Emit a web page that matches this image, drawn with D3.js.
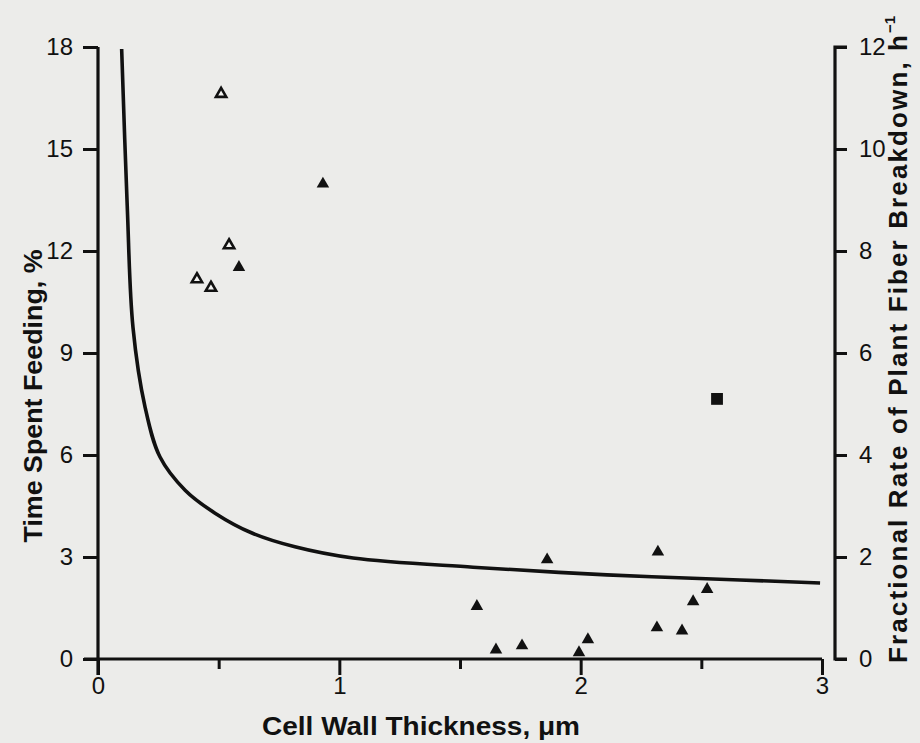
<!DOCTYPE html>
<html>
<head>
<meta charset="utf-8">
<script src="https://cdn.jsdelivr.net/npm/d3@7"></script>
<style>
  html, body { margin: 0; padding: 0; background: #ececea; }
  svg { display: block; }
  .tick text { font-family: "Liberation Sans", Arial, sans-serif; font-size: 24px; fill: #111; }
  .title { font-family: "Liberation Sans", Arial, sans-serif; font-weight: bold; font-size: 26px; fill: #111; }
</style>
</head>
<body>
<script>
// Cell wall thickness (µm) vs time spent feeding (%), open and filled triangles
const openTriX = [0.51, 0.543, 0.41, 0.468];
const openTriY = [16.65, 12.2, 11.2, 10.95];

const filledTriX = [0.932, 0.584, 1.861, 2.320, 1.570, 1.649, 1.757, 1.993, 2.030, 2.316, 2.420, 2.466, 2.524];
const filledTriY = [14.0, 11.55, 2.95, 3.18, 1.58, 0.3, 0.42, 0.22, 0.6, 0.95, 0.86, 1.72, 2.08];

const squareX = [2.565];
const squareY = [7.65];

// Fractional rate of plant fiber breakdown (h^-1), right axis
const curveX = [0.098, 0.121, 0.145, 0.195, 0.257, 0.361, 0.485, 0.638, 0.816, 1.057, 1.554, 2.109, 2.660, 2.992];
const curveY = [11.96, 8.9, 6.5, 4.94, 3.96, 3.31, 2.86, 2.47, 2.20, 1.98, 1.80, 1.65, 1.55, 1.49];

const xTicks = [0, 0.5, 1, 1.5, 2, 2.5, 3];
const xTickLabels = {0: "0", 1: "1", 2: "2", 3: "3"};
const leftTicks = [0, 3, 6, 9, 12, 15, 18];
const rightTicks = [0, 2, 4, 6, 8, 10, 12];

const W = 920, H = 743;
const svg = d3.select("body").append("svg").attr("width", W).attr("height", H);
svg.append("rect").attr("width", W).attr("height", H).attr("fill", "#ececea");

const x = d3.scaleLinear().domain([0, 3]).range([98, 822]);
const yL = d3.scaleLinear().domain([0, 18]).range([659, 47]);
const yR = d3.scaleLinear().domain([0, 12]).range([659, 47]);

function styleAxis(g) {
  g.select(".domain").attr("stroke", "#111").attr("stroke-width", 3.2);
  g.selectAll(".tick line").attr("stroke", "#111").attr("stroke-width", 3);
}

// Bottom axis
const gx = svg.append("g").attr("transform", `translate(0,${yL(0)})`)
  .call(d3.axisBottom(x).tickValues(xTicks).tickSize(16).tickSizeOuter(0).tickPadding(2)
    .tickFormat(d => xTickLabels[d] !== undefined ? xTickLabels[d] : ""));
styleAxis(gx);
gx.selectAll(".tick").filter(d => xTickLabels[d] === undefined).select("line").attr("y2", 10);
gx.select(".domain").attr("d", `M${x(0) - 14},0H${x(3)}`);

// Left axis
const gl = svg.append("g").attr("transform", `translate(${x(0)},0)`)
  .call(d3.axisLeft(yL).tickValues(leftTicks).tickSize(15).tickSizeOuter(0).tickPadding(10));
styleAxis(gl);
gl.select(".domain").attr("d", `M0,${yL(18)}V${yL(0) + 16}`);

// Right axis
const gr = svg.append("g").attr("transform", "translate(835,0)")
  .call(d3.axisRight(yR).tickValues(rightTicks).tickSize(12).tickSizeOuter(0).tickPadding(12));
styleAxis(gr);
gr.select(".domain").attr("d", `M12,${yR(12)}H0V${yR(0)}H12`);

// Curve
const line = d3.line().x(d => x(d[0])).y(d => yR(d[1])).curve(d3.curveCatmullRom.alpha(0.5));
svg.append("path").datum(curveX.map((v, i) => [v, curveY[i]]))
  .attr("d", line).attr("fill", "none").attr("stroke", "#111").attr("stroke-width", 3.6)
  .attr("stroke-linecap", "butt");

// Markers
svg.selectAll(".open").data(openTriX.map((v, i) => [v, openTriY[i]])).join("path")
  .attr("class", "open")
  .attr("transform", d => `translate(${x(d[0])},${yL(d[1]) + 1})`)
  .attr("d", d3.symbol().type(d3.symbolTriangle).size(46)())
  .attr("fill", "#f4f4f2").attr("stroke", "#111").attr("stroke-width", 2.6).attr("stroke-linejoin", "miter");

svg.selectAll(".filled").data(filledTriX.map((v, i) => [v, filledTriY[i]])).join("path")
  .attr("class", "filled")
  .attr("transform", d => `translate(${x(d[0])},${yL(d[1]) + 1})`)
  .attr("d", d3.symbol().type(d3.symbolTriangle).size(68)())
  .attr("fill", "#111");

svg.selectAll(".sq").data(squareX.map((v, i) => [v, squareY[i]])).join("path")
  .attr("class", "sq")
  .attr("transform", d => `translate(${x(d[0])},${yL(d[1])})`)
  .attr("d", d3.symbol().type(d3.symbolSquare).size(140)())
  .attr("fill", "#111");

// Axis titles
svg.append("text").attr("class", "title")
  .attr("transform", "translate(42,396) rotate(-90)")
  .attr("text-anchor", "middle")
  .attr("textLength", 293).attr("lengthAdjust", "spacingAndGlyphs")
  .text("Time Spent Feeding, %");

svg.append("text").attr("class", "title")
  .attr("x", 421).attr("y", 735)
  .attr("text-anchor", "middle")
  .attr("textLength", 318).attr("lengthAdjust", "spacingAndGlyphs")
  .text("Cell Wall Thickness, μm");

const rt = svg.append("g").attr("transform", "translate(907,663) rotate(-90)");
rt.append("text").attr("class", "title")
  .attr("x", 0).attr("y", 0)
  .attr("textLength", 628).attr("lengthAdjust", "spacing")
  .text("Fractional Rate of Plant Fiber Breakdown, h");
rt.append("text").attr("class", "title")
  .attr("x", 630).attr("y", -12)
  .style("font-size", "15px")
  .text("−1");
</script>
</body>
</html>
